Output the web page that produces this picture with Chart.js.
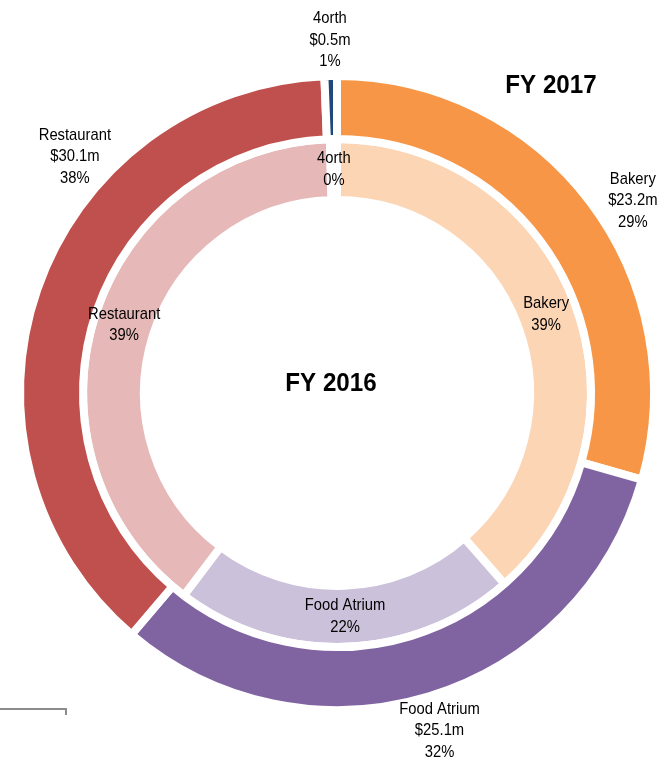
<!DOCTYPE html>
<html>
<head>
<meta charset="utf-8">
<script src="https://cdn.jsdelivr.net/npm/chart.js@4/dist/chart.umd.min.js"></script>
<style>
  html, body { margin: 0; padding: 0; background: #fff; overflow: hidden; }
  #wrap { position: relative; width: 668px; height: 763px; }
  #stray { position: absolute; left: 0; top: 708px; width: 65px; height: 5px;
           border-top: 2px solid #8c8c8c; border-right: 2px solid #8c8c8c; }
</style>
</head>
<body>
<div id="wrap">
  <canvas id="pie" width="668" height="763"></canvas>
  <div id="stray"></div>
</div>
<script>
// データ
const categories = ['Bakery', 'Food Atrium', 'Restaurant', '4orth'];
const fy2017Revenue = [23.2, 25.1, 30.1, 0.5];   // $m
const fy2016Share = [38.6, 21.8, 39.3, 0.45];    // %
const ringTitles = ['FY 2017', 'FY 2016'];

const outerColors = ['#F79646', '#8064A2', '#C0504D', '#1F497D'];
const innerColors = ['#FCD5B5', '#CCC1DA', '#E6B9B8', '#C6D9F1'];

// ラベルの角度の微調整（度）
const outerLabelNudge = [4, 0, 23, 0];

function drawText(ctx, str, x, y, font, sx) {
  ctx.save();
  ctx.translate(x, y);
  ctx.scale(sx, 1);
  ctx.font = font;
  ctx.fillStyle = '#000';
  ctx.textAlign = 'center';
  ctx.textBaseline = 'middle';
  ctx.fillText(str, 0, 0);
  ctx.restore();
}

function pct(arr) {
  const total = arr.reduce((a, b) => a + b, 0);
  return arr.map(v => Math.round(v / total * 100) + '%');
}

const labelPlugin = {
  id: 'ringLabels',
  afterDatasetsDraw(chart) {
    const ctx = chart.ctx;
    const font = '17px "Liberation Sans", Arial, sans-serif';
    const sx = 0.87;
    const lh = 21.5;

    // 外側のリング
    const outerPct = pct(fy2017Revenue);
    chart.getDatasetMeta(0).data.forEach((arc, i) => {
      const p = arc.getProps(['x', 'y', 'startAngle', 'endAngle']);
      const a = (p.startAngle + p.endAngle) / 2 + outerLabelNudge[i] * Math.PI / 180;
      const r = 353;
      const cx = p.x + r * Math.cos(a);
      const cy = p.y + r * Math.sin(a);
      const lines = [categories[i], '$' + fy2017Revenue[i].toFixed(1) + 'm', outerPct[i]];
      lines.forEach((t, k) => drawText(ctx, t, cx, cy + (k - 1) * lh, font, sx));
    });

    // 内側のリング
    const innerPct = pct(fy2016Share);
    chart.getDatasetMeta(1).data.forEach((arc, i) => {
      const p = arc.getProps(['x', 'y', 'startAngle', 'endAngle', 'innerRadius', 'outerRadius']);
      const a = (p.startAngle + p.endAngle) / 2;
      const r = (p.innerRadius + p.outerRadius) / 2;
      const cx = p.x + r * Math.cos(a);
      const cy = p.y + r * Math.sin(a);
      const lines = [categories[i], innerPct[i]];
      lines.forEach((t, k) => drawText(ctx, t, cx, cy + (k - 0.5) * lh, font, sx));
    });

    const bold = 'bold 26px "Liberation Sans", Arial, sans-serif';
    const c = chart.getDatasetMeta(0).data[0];
    drawText(ctx, ringTitles[0], 551, 86, bold, 0.93);
    drawText(ctx, ringTitles[1], c.x - 6, c.y - 9, bold, 0.93);
  }
};

new Chart(document.getElementById('pie'), {
  type: 'doughnut',
  data: {
    labels: categories,
    datasets: [
      { label: ringTitles[0], data: fy2017Revenue, backgroundColor: outerColors, weight: 63 },
      { label: ringTitles[1], data: fy2016Share, backgroundColor: innerColors, weight: 61 }
    ]
  },
  options: {
    responsive: false,
    animation: false,
    radius: 317,
    cutout: '60.88%',
    layout: { padding: { left: 6, right: 0, top: 23, bottom: 0 } },
    elements: {
      arc: { borderWidth: 8, borderColor: '#ffffff', borderAlign: 'center', offset: 0, hoverOffset: 0 }
    },
    plugins: {
      legend: { display: false },
      tooltip: { enabled: false }
    }
  },
  plugins: [labelPlugin]
});
</script>
</body>
</html>
